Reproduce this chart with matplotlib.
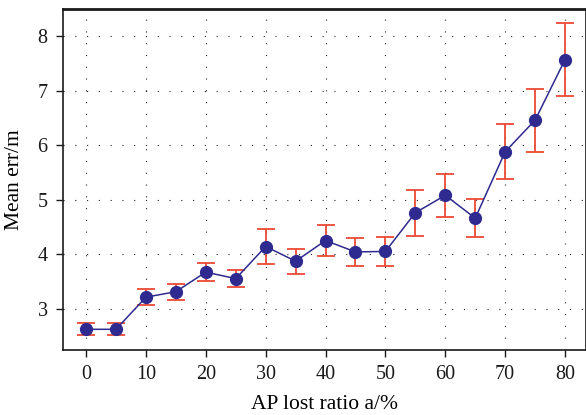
import matplotlib
matplotlib.use("Agg")
import matplotlib.pyplot as plt

ratios = [0, 5, 10, 15, 20, 25, 30, 35, 40, 45, 50, 55, 60, 65, 70, 75, 80]
mean_err = [2.62, 2.62, 3.21, 3.31, 3.67, 3.55, 4.14, 3.87, 4.25, 4.04, 4.05,
            4.76, 5.08, 4.66, 5.88, 6.46, 7.57]
err = [0.11, 0.11, 0.15, 0.15, 0.16, 0.15, 0.32, 0.23, 0.29, 0.26, 0.27,
       0.42, 0.40, 0.35, 0.50, 0.58, 0.67]
xticks = [0, 10, 20, 30, 40, 50, 60, 70, 80]
yticks = [3, 4, 5, 6, 7, 8]

plt.rcParams['font.family'] = ['Liberation Serif', 'DejaVu Serif']

fig = plt.figure(figsize=(5.86, 4.15), dpi=100)
ax = fig.add_axes([63/586, 1-350/415, 1-63/586, (350-9)/415])

ax.errorbar(ratios, mean_err, yerr=err, fmt='none', ecolor='#ec4a35',
            elinewidth=1.3, capsize=6.5, capthick=1.3, zorder=2)
ax.plot(ratios, mean_err, color='#2e2a8f', linewidth=1.1, marker='o',
        markersize=8.5, markerfacecolor='#2e2a8f', markeredgecolor='#2e2a8f', zorder=3)

ax.set_xlim(-3.85, 83.5)
ax.set_ylim(2.24, 8.5)
ax.set_xticks(xticks)
ax.set_yticks(yticks)
ax.grid(True, color='#222222', linestyle=(0, (1, 9.6)), linewidth=0.8)
ax.set_axisbelow(True)
ax.tick_params(direction='out', length=5, width=1, labelsize=14.5, colors='#1a1a1a', pad=6)
for s in ax.spines.values():
    s.set_linewidth(1.2)
    s.set_color('#1a1a1a')
ax.spines['top'].set_linewidth(2.0)

ax.set_xlabel('AP lost ratio a/%', fontsize=15.5, labelpad=8)
ax.set_ylabel('Mean err/m', fontsize=15.5, labelpad=10)

fig.savefig('out.png', dpi=100)
